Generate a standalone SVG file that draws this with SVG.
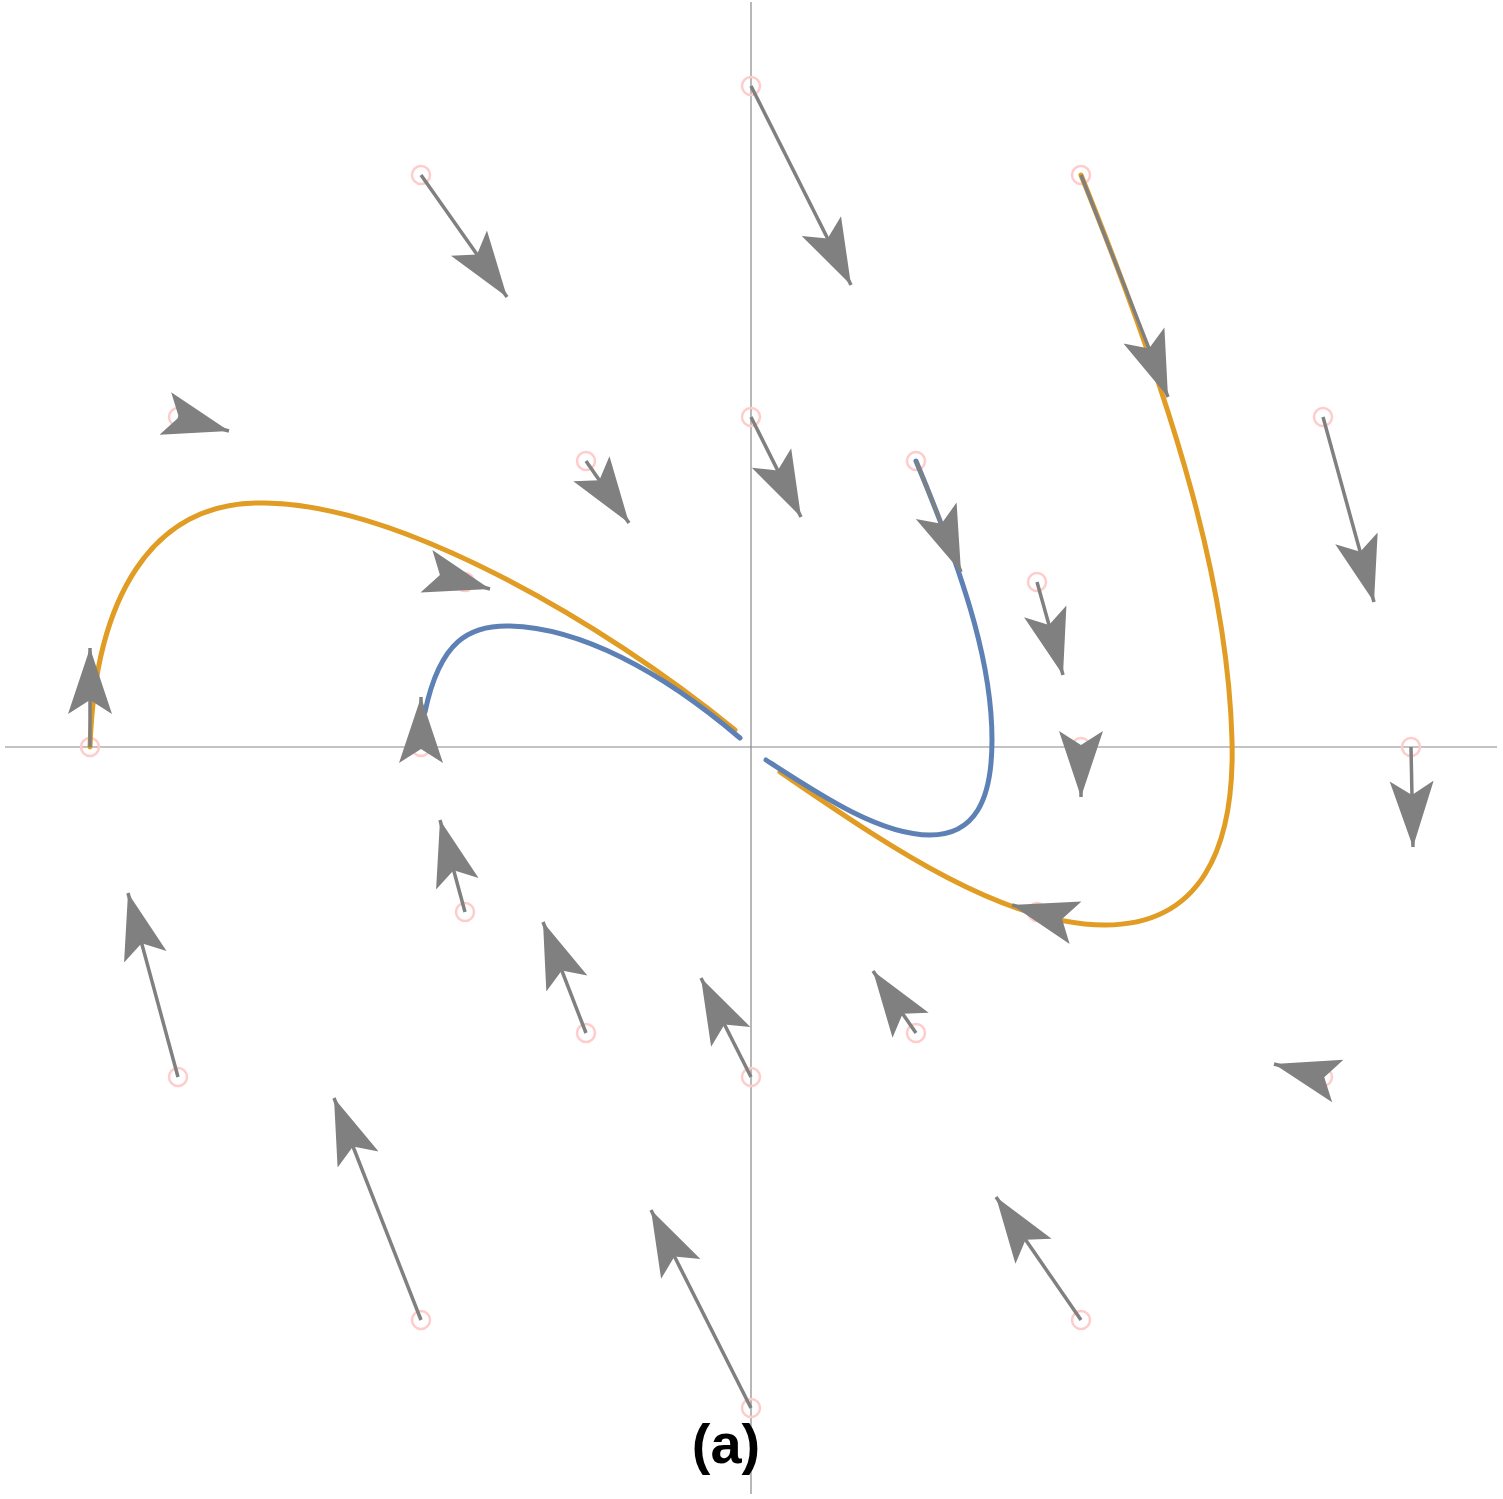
<svg xmlns="http://www.w3.org/2000/svg" width="1503" height="1499" viewBox="0 0 1503 1499">
<style>
.ax{stroke:#888;stroke-width:1.2}
.pt{fill:none;stroke:#fcc;stroke-width:2.5}
.ar{stroke:#808080;stroke-width:3.5;marker-end:url(#h)}
.cv{fill:none;stroke-width:5;stroke-linecap:round}
</style>
<defs><marker id="h" markerUnits="userSpaceOnUse" markerWidth="80" markerHeight="60" refX="66" refY="25" orient="auto"><path d="M66,25 L0,3 L14,25 L0,47 Z" fill="#808080"/></marker></defs>
<rect width="1503" height="1499" fill="#fff"/>
<g id="axes"><line class="ax" x1="5" y1="747" x2="1497" y2="747"/><line class="ax" x1="751" y1="2" x2="751" y2="1494"/></g>
<g id="points">
<circle class="pt" cx="751" cy="86" r="9"/><circle class="pt" cx="421" cy="175" r="9"/><circle class="pt" cx="1081" cy="175" r="9"/>
<circle class="pt" cx="178" cy="417" r="9"/><circle class="pt" cx="751" cy="417" r="9"/><circle class="pt" cx="1323" cy="417" r="9"/>
<circle class="pt" cx="586" cy="461" r="9"/><circle class="pt" cx="916" cy="461" r="9"/><circle class="pt" cx="1037" cy="582" r="9"/>
<circle class="pt" cx="465" cy="582" r="9"/><circle class="pt" cx="90" cy="747" r="9"/><circle class="pt" cx="421" cy="747" r="9"/>
<circle class="pt" cx="1081" cy="747" r="9"/><circle class="pt" cx="1411" cy="747" r="9"/><circle class="pt" cx="465" cy="912" r="9"/>
<circle class="pt" cx="1037" cy="912" r="9"/><circle class="pt" cx="586" cy="1033" r="9"/><circle class="pt" cx="916" cy="1033" r="9"/>
<circle class="pt" cx="178" cy="1077" r="9"/><circle class="pt" cx="751" cy="1077" r="9"/><circle class="pt" cx="1323" cy="1077" r="9"/>
<circle class="pt" cx="421" cy="1320" r="9"/><circle class="pt" cx="1081" cy="1320" r="9"/><circle class="pt" cx="751" cy="1408" r="9"/>
</g>
<g id="curves">
<path class="cv" stroke="#e19c24" d="M90,747 C95,600 150,500 265,503 C400,505 600,620 735,730"/>
<path class="cv" stroke="#e19c24" d="M780,772 C880,840 1000,925 1105,925 C1200,925 1235,850 1232,740 C1228,590 1180,420 1081,175"/>
<path class="cv" stroke="#5e81b5" d="M425,712 C440,640 470,625 510,626 C580,628 660,670 740,738"/>
<path class="cv" stroke="#5e81b5" d="M766,760 C820,795 880,835 930,835 C975,835 992,800 992,740 C992,670 970,590 916,461"/>
</g>
<g id="connectors">
<line class="ar" x1="751" y1="86" x2="851" y2="285"/>
<line class="ar" x1="421" y1="175" x2="507" y2="297"/>
<line class="ar" x1="1081" y1="175" x2="1168" y2="397"/>
<line class="ar" x1="178" y1="417" x2="229" y2="431"/>
<line class="ar" x1="751" y1="417" x2="801" y2="517"/>
<line class="ar" x1="1323" y1="417" x2="1374" y2="602"/>
<line class="ar" x1="586" y1="461" x2="629" y2="523"/>
<line class="ar" x1="916" y1="461" x2="961" y2="572"/>
<line class="ar" x1="1037" y1="582" x2="1063" y2="675"/>
<line class="ar" x1="465" y1="582" x2="490" y2="589"/>
<line class="ar" x1="90" y1="747" x2="90" y2="648"/>
<line class="ar" x1="421" y1="747" x2="421" y2="697"/>
<line class="ar" x1="1081" y1="747" x2="1081" y2="797"/>
<line class="ar" x1="1411" y1="747" x2="1413" y2="847"/>
<line class="ar" x1="465" y1="912" x2="440" y2="820"/>
<line class="ar" x1="1037" y1="912" x2="1012" y2="905"/>
<line class="ar" x1="586" y1="1033" x2="543" y2="922"/>
<line class="ar" x1="916" y1="1033" x2="873" y2="971"/>
<line class="ar" x1="178" y1="1077" x2="128" y2="893"/>
<line class="ar" x1="751" y1="1077" x2="701" y2="978"/>
<line class="ar" x1="1323" y1="1077" x2="1274" y2="1064"/>
<line class="ar" x1="421" y1="1320" x2="334" y2="1098"/>
<line class="ar" x1="1081" y1="1320" x2="996" y2="1197"/>
<line class="ar" x1="751" y1="1408" x2="651" y2="1210"/>
</g>
<text x="726" y="1463" text-anchor="middle" font-family="Liberation Sans, Arial, sans-serif" font-weight="bold" font-size="56">(a)</text>
</svg>
